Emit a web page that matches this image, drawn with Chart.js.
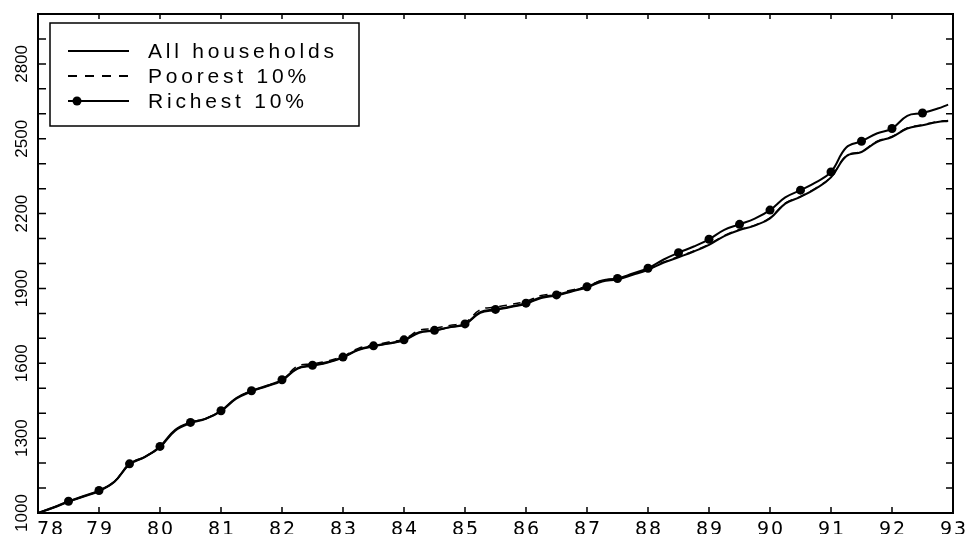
<!DOCTYPE html>
<html>
<head>
<meta charset="utf-8">
<script src="https://cdn.jsdelivr.net/npm/chart.js@4"></script>
<style>
  html, body { margin: 0; padding: 0; background: #fff; }
  #wrap { width: 967px; height: 534px; }
</style>
</head>
<body>
<div id="wrap"><canvas id="myChart" width="967" height="534"></canvas></div>
<script>
// quarterly points, 1978 - end of 1992
const quarters = [
  78, 78.25, 78.5, 78.75, 79, 79.25, 79.5, 79.75, 80, 80.25, 80.5, 80.75,
  81, 81.25, 81.5, 81.75, 82, 82.25, 82.5, 82.75, 83, 83.25, 83.5, 83.75,
  84, 84.25, 84.5, 84.75, 85, 85.25, 85.5, 85.75, 86, 86.25, 86.5, 86.75,
  87, 87.25, 87.5, 87.75, 88, 88.25, 88.5, 88.75, 89, 89.25, 89.5, 89.75,
  90, 90.25, 90.5, 90.75, 91, 91.25, 91.5, 91.75, 92, 92.25, 92.5, 92.75, 92.92
];

const allHouseholds = [
  1000, 1021, 1045, 1066, 1088, 1124, 1194, 1224, 1264, 1330, 1360, 1377,
  1408, 1458, 1487, 1508, 1531, 1578, 1590, 1603, 1623, 1653, 1668, 1679,
  1692, 1722, 1731, 1744, 1756, 1802, 1814, 1826, 1839, 1862, 1872, 1888,
  1904, 1928, 1936, 1955, 1975, 2003, 2025, 2048, 2075, 2110, 2134, 2152,
  2181, 2240, 2267, 2300, 2345, 2430, 2447, 2487, 2507, 2541, 2554, 2567, 2571
];

const poorest = [
  1000, 1022, 1046, 1067, 1089, 1126, 1196, 1226, 1265, 1332, 1362, 1379,
  1410, 1460, 1489, 1510, 1533, 1588, 1598, 1610, 1628, 1660, 1673, 1685,
  1697, 1732, 1740, 1752, 1764, 1815, 1825, 1836, 1848, 1872, 1880, 1894,
  1909, 1933, 1940, 1958, 1977, 2005, 2027, 2050, 2077, 2112, 2136, 2154,
  2183, 2242, 2269, 2302, 2347, 2432, 2449, 2489, 2509, 2543, 2556, 2569, 2573
];

const richest = [
  1000, 1022, 1047, 1068, 1090, 1125, 1197, 1225, 1267, 1334, 1363, 1378,
  1410, 1461, 1490, 1510, 1534, 1580, 1592, 1605, 1625, 1655, 1670, 1680,
  1694, 1725, 1732, 1745, 1758, 1805, 1816, 1828, 1841, 1865, 1874, 1890,
  1907, 1932, 1940, 1960, 1981, 2015, 2043, 2068, 2097, 2135, 2157, 2180,
  2214, 2265, 2294, 2325, 2367, 2465, 2490, 2521, 2541, 2592, 2603, 2621, 2637
];

const yearTicks = [78, 79, 80, 81, 82, 83, 84, 85, 86, 87, 88, 89, 90, 91, 92, 93];
const yLabels = [1000, 1300, 1600, 1900, 2200, 2500, 2800];
const yMinor = [1000, 1100, 1200, 1300, 1400, 1500, 1600, 1700, 1800, 1900, 2000,
  2100, 2200, 2300, 2400, 2500, 2600, 2700, 2800, 2900, 3000];
const seriesNames = ['All households', 'Poorest 10%', 'Richest 10%'];

function pts(vals) {
  return quarters.map((q, i) => ({ x: q, y: vals[i] }));
}

// frame, inward ticks, tick labels and boxed legend
const framePlugin = {
  id: 'frame',
  afterDraw(chart) {
    const c = chart.ctx;
    const a = chart.chartArea;
    const xs = chart.scales.x, ys = chart.scales.y;
    c.save();
    c.strokeStyle = '#000';
    c.lineWidth = 2;
    c.strokeRect(a.left, a.top, a.right - a.left, a.bottom - a.top);

    c.lineWidth = 1.5;
    c.beginPath();
    yearTicks.forEach(v => {
      const px = xs.getPixelForValue(v);
      c.moveTo(px, a.bottom); c.lineTo(px, a.bottom - 6);
      c.moveTo(px, a.top); c.lineTo(px, a.top + 5);
    });
    yMinor.forEach(v => {
      const py = ys.getPixelForValue(v);
      c.moveTo(a.left, py); c.lineTo(a.left + 8, py);
      c.moveTo(a.right, py); c.lineTo(a.right - 7, py);
    });
    c.stroke();

    c.fillStyle = '#000';
    c.font = '19px "DejaVu Sans"';
    c.letterSpacing = '2px';
    c.textAlign = 'center';
    c.textBaseline = 'alphabetic';
    yearTicks.forEach(v => {
      let px = xs.getPixelForValue(v);
      if (v === 78) px += 12;
      c.fillText(String(v), px + 1, 535);
    });

    c.letterSpacing = '0px';
    c.font = '17px "Liberation Sans"';
    yLabels.forEach(v => {
      const py = ys.getPixelForValue(v);
      c.save();
      c.translate(27, py);
      c.rotate(-Math.PI / 2);
      c.fillText(String(v), 0, 0);
      c.restore();
    });

    // legend
    c.lineWidth = 1.5;
    c.strokeRect(50, 23, 309, 103);
    const rows = [51, 76, 101];
    c.font = '21px "Liberation Sans"';
    c.letterSpacing = '3.8px';
    c.textAlign = 'left';
    c.textBaseline = 'middle';
    rows.forEach((ry, i) => {
      c.lineWidth = 2;
      c.setLineDash(i === 1 ? [9, 8] : []);
      c.beginPath();
      c.moveTo(68, ry); c.lineTo(129, ry);
      c.stroke();
      c.setLineDash([]);
      if (i === 2) {
        c.beginPath();
        c.arc(77, ry, 4.5, 0, Math.PI * 2);
        c.fill();
      }
      c.fillText(seriesNames[i], 148, ry + 1);
    });
    c.restore();
  }
};

const ctx = document.getElementById('myChart').getContext('2d');

const config = {
  type: 'line',
  data: {
    datasets: [{
      label: seriesNames[0],
      data: pts(allHouseholds),
      borderColor: '#000',
      borderWidth: 2,
      pointRadius: 0,
      tension: 0.4
    }, {
      label: seriesNames[1],
      data: pts(poorest),
      borderColor: '#000',
      borderWidth: 1.5,
      borderDash: [8, 6],
      pointRadius: 0,
      tension: 0.4
    }, {
      label: seriesNames[2],
      data: pts(richest),
      borderColor: '#000',
      borderWidth: 2,
      backgroundColor: '#000',
      pointBackgroundColor: '#000',
      pointBorderWidth: 0,
      // a marker every half year, 78.5 to 92.5
      pointRadius: quarters.map((q, i) => (i >= 2 && i <= 58 && i % 2 === 0) ? 4.5 : 0),
      tension: 0.4
    }]
  },
  options: {
    responsive: false,
    animation: false,
    layout: { padding: { left: 38, right: 14, top: 14, bottom: 21 } },
    plugins: { legend: { display: false }, tooltip: { enabled: false } },
    scales: {
      x: { type: 'linear', min: 78, max: 93, display: false },
      y: { min: 1000, max: 3000, display: false }
    }
  },
  plugins: [framePlugin]
};

const myChart = new Chart(ctx, config);
</script>
</body>
</html>
